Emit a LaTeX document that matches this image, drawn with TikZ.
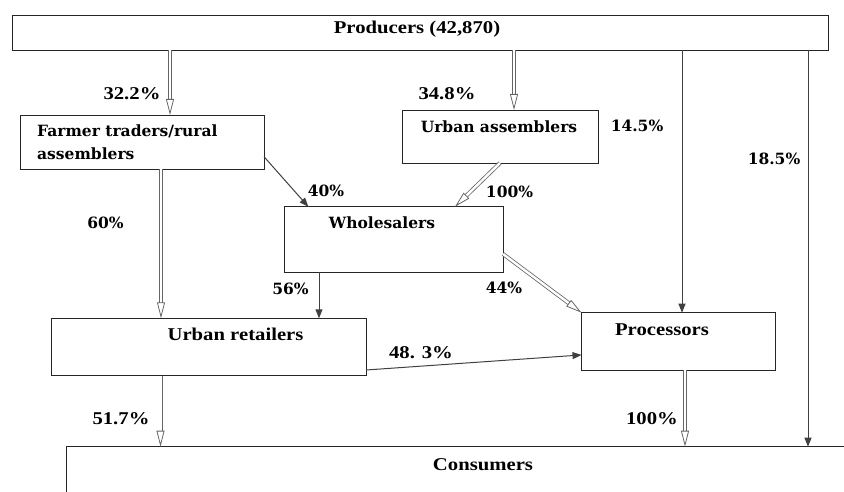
\documentclass[tikz,border=0pt]{standalone}
\usepackage{fontspec}
\newfontfamily\timesfont{Liberation Serif}[FakeStretch=1.15]
\newfontfamily\bookfont{DejaVu Serif}
\usetikzlibrary{arrows.meta}

\begin{document}
\begin{tikzpicture}[x=1pt, y=-1pt,
  box/.style={draw=black!85, line width=0.9pt, inner sep=0pt, outer sep=0pt},
  tlabel/.style={anchor=base, inner sep=0pt, font=\timesfont\bfseries\fontsize{18}{20}\selectfont},
  blabel/.style={anchor=base, inner sep=0pt, font=\bookfont\bfseries\fontsize{15.5}{23.3}\selectfont},
  flow/.style={draw=black!75, line width=1pt, -{Triangle[length=9pt, width=7pt]}},
  dflow/.style={draw=black!60, double=white, double distance=2.4pt, line width=0.8pt, -{Triangle[open, length=16pt, width=8pt]}}]
\useasboundingbox (0,0) rectangle (844,492);
\clip (0,0) rectangle (844,492);

\node[box, minimum width=816, minimum height=35] (prod) at (420,32.5) {};
\node[box, minimum width=244, minimum height=54] (farm) at (142,142) {};
\node[box, minimum width=196, minimum height=53] (uass) at (500,136.5) {};
\node[box, minimum width=219, minimum height=65.6] (whol) at (393.5,239.5) {};
\node[box, minimum width=315, minimum height=57.4] (retl) at (208.5,347) {};
\node[box, minimum width=194, minimum height=57.3] (proc) at (678.5,341.35) {};
\node[box, minimum width=800, minimum height=60, anchor=north west] (cons) at (66,446.7) {};

\node[tlabel] (prod-t) at (417,33.3) {Producers (42,870)};
\node[blabel, anchor=base west, align=left] (farm-t) at (37,160) {Farmer traders/rural\\assemblers};
\node[blabel] (uass-t) at (499,132.3) {Urban assemblers};
\node[blabel] (whol-t) at (382,229) {Wholesalers};
\node[tlabel] (retl-t) at (235.5,340.7) {Urban retailers};
\node[tlabel] (proc-t) at (662,335) {Processors};
\node[tlabel] (cons-t) at (483,470) {Consumers};

\node[tlabel] (p1) at (132,100) {32.2\%};
\node[tlabel] (p2) at (447,100) {34.8\%};
\node[blabel] (p3) at (637,132) {14.5\%};
\node[blabel] (p4) at (774,165) {18.5\%};
\node[blabel] (p5) at (105.5,229) {60\%};
\node[blabel] (p6) at (326,196.7) {40\%};
\node[blabel] (p7) at (509.5,197) {100\%};
\node[blabel] (p8) at (290.5,294) {56\%};
\node[blabel] (p9) at (504,293) {44\%};
\node[tlabel] (p10) at (421,358) {48. 3\%};
\node[tlabel] (p11) at (121,424) {51.7\%};
\node[tlabel] (p12) at (652,424) {100\%};

\draw[dflow] ([xshift=28pt]farm.north |- prod.south) -- ([xshift=28pt]farm.north);
\draw[dflow] ([xshift=14pt]uass.north |- prod.south) -- ([xshift=14pt]uass.north);
\draw[flow] ([xshift=3.5pt]proc.north |- prod.south) -- ([xshift=3.5pt]proc.north);
\draw[flow] ([xshift=742pt]cons.north west |- prod.south) -- ([xshift=742pt]cons.north west);
\draw[dflow] ([xshift=19pt]farm.south) -- ([xshift=19pt]farm.south |- retl.north);
\draw[flow] ([yshift=-14.7pt]farm.east) -- ([xshift=24.3pt]whol.north west);
\draw[dflow] (uass.south) -- ([xshift=-48pt]whol.north east);
\draw[flow] ([xshift=35pt]whol.south west) -- ([xshift=35pt]whol.south west |- retl.north);
\draw[dflow] ([yshift=-14.5pt]whol.east) -- (proc.north west);
\draw[flow] ([yshift=5.7pt]retl.south east) -- ([yshift=-13.6pt]proc.west);
\draw[dflow] ([xshift=-48pt]retl.south) -- ([xshift=-48pt]retl.south |- cons.north);
\draw[dflow] ([xshift=6.5pt]proc.south) -- ([xshift=6.5pt]proc.south |- cons.north);
\end{tikzpicture}
\end{document}
